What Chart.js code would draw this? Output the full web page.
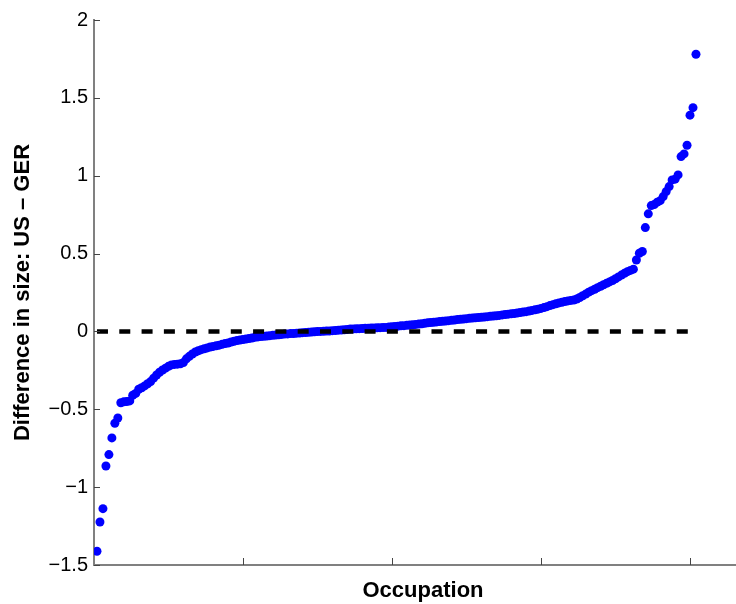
<!DOCTYPE html>
<html><head><meta charset="utf-8">
<script src="https://cdn.jsdelivr.net/npm/chart.js@4/dist/chart.umd.min.js"></script>
<style>html,body{margin:0;padding:0;background:#fff;overflow:hidden;width:736px;height:604px}canvas{display:block}</style>
</head><body>
<canvas id="c" width="752" height="604"></canvas>
<script>
// Sorted difference in occupation size (US - GER), one value per occupation
const sizeDiff = [
 -1.412,-1.224,-1.138,-0.864,-0.791,-0.684,-0.590,-0.556,-0.458,-0.452,
 -0.450,-0.446,-0.410,-0.398,-0.371,-0.362,-0.350,-0.336,-0.322,-0.300,
 -0.280,-0.262,-0.248,-0.236,-0.224,-0.215,-0.212,-0.210,-0.208,-0.200,
 -0.176,-0.160,-0.145,-0.132,-0.124,-0.117,-0.111,-0.106,-0.100,-0.096,
 -0.092,-0.088,-0.083,-0.078,-0.074,-0.068,-0.063,-0.058,-0.055,-0.052,
 -0.049,-0.046,-0.042,-0.038,-0.035,-0.033,-0.031,-0.029,-0.027,-0.025,
 -0.023,-0.021,-0.019,-0.017,-0.016,-0.014,-0.013,-0.011,-0.010,-0.008,
 -0.007,-0.005,-0.004,-0.002,-0.001,0.000,0.001,0.002,0.003,0.005,
 0.006,0.008,0.009,0.011,0.013,0.015,0.016,0.017,0.018,0.019,
 0.020,0.021,0.022,0.022,0.023,0.024,0.025,0.026,0.028,0.030,
 0.032,0.034,0.036,0.037,0.039,0.041,0.043,0.045,0.047,0.049,
 0.052,0.055,0.057,0.059,0.061,0.063,0.065,0.067,0.069,0.071,
 0.073,0.076,0.078,0.080,0.082,0.084,0.086,0.088,0.089,0.091,
 0.093,0.095,0.097,0.099,0.101,0.103,0.106,0.109,0.111,0.113,
 0.115,0.118,0.121,0.124,0.127,0.131,0.135,0.139,0.143,0.148,
 0.153,0.159,0.166,0.172,0.178,0.183,0.187,0.192,0.196,0.199,
 0.202,0.208,0.218,0.229,0.240,0.252,0.262,0.271,0.281,0.290,
 0.300,0.309,0.318,0.327,0.338,0.350,0.362,0.373,0.384,0.392,
 0.400,0.459,0.502,0.513,0.667,0.755,0.808,0.815,0.830,0.840,
 0.866,0.898,0.930,0.973,0.978,1.005,1.123,1.140,1.196,1.389,
 1.437,1.780
];
const referenceLevel = 0;
const yTickValues = [-1.5, -1, -0.5, 0, 0.5, 1, 1.5, 2];
const yTickLabels = ['\u22121.5', '\u22121', '\u22120.5', '0', '0.5', '1', '1.5', '2'];
const xTickValues = [50, 100, 150, 200];
const xLimits = [0, 220.8];
const yLimits = [-1.5, 2];
const xTitle = 'Occupation';
const yTitle = 'Difference in size: US \u2013 GER';

const points = sizeDiff.map((v, i) => ({x: i + 1, y: v}));
const refLine = [{x: 1, y: referenceLevel}, {x: sizeDiff.length, y: referenceLevel}];

const FONT = '"Liberation Sans", Arial, Helvetica, sans-serif';

const inwardTicks = {
  id: 'inwardTicks',
  afterDatasetsDraw(chart) {
    const {ctx, chartArea: a, scales: {x, y}} = chart;
    ctx.save();
    ctx.lineWidth = 1;
    ctx.strokeStyle = '#444';
    y.ticks.forEach(t => {
      const py = Math.round(y.getPixelForValue(t.value)) + 0.5;
      ctx.beginPath(); ctx.moveTo(a.left, py); ctx.lineTo(a.left + 6, py); ctx.stroke();
    });
    x.ticks.forEach(t => {
      const px = Math.round(x.getPixelForValue(t.value)) + 0.5;
      ctx.beginPath(); ctx.moveTo(px, a.bottom); ctx.lineTo(px, a.bottom - 7); ctx.stroke();
    });
    ctx.restore();
  }
};

new Chart(document.getElementById('c'), {
  type: 'scatter',
  data: {
    datasets: [
      {
        type: 'line',
        data: refLine,
        borderColor: '#000',
        borderWidth: 4.5,
        borderDash: [11, 11.3],
        borderCapStyle: 'butt',
        pointRadius: 0,
        fill: false,
        order: 0
      },
      {
        data: points,
        backgroundColor: '#0000ff',
        borderColor: '#0000ff',
        borderWidth: 0,
        pointRadius: 4.5,
        pointHoverRadius: 4.5,
        order: 1
      }
    ]
  },
  options: {
    responsive: false,
    animation: false,
    devicePixelRatio: 1,
    layout: {autoPadding: false, padding: {top: 20, right: 0, bottom: 0, left: 0}},
    plugins: {legend: {display: false}, tooltip: {enabled: false}},
    scales: {
      x: {
        type: 'linear',
        min: xLimits[0], max: xLimits[1],
        afterBuildTicks: s => { s.ticks = xTickValues.map(v => ({value: v})); },
        afterFit: s => { s.height = 39; s.paddingLeft = 0; s.paddingRight = 0; },
        ticks: {display: false},
        grid: {display: true, drawOnChartArea: false, drawTicks: false, color: 'rgba(0,0,0,0)'},
        border: {display: true, color: '#808080', width: 2},
        title: {display: true, text: xTitle, color: '#000', font: {family: FONT, size: 22, weight: 'bold'}, padding: {top: 7, bottom: 0}}
      },
      y: {
        type: 'linear',
        min: yLimits[0], max: yLimits[1],
        afterBuildTicks: s => { s.ticks = yTickValues.map(v => ({value: v})); },
        afterFit: s => { s.width = 94; },
        ticks: {
          color: '#000', padding: 6,
          font: {family: FONT, size: 20},
          callback: (v) => { const k = yTickValues.indexOf(v); return k >= 0 ? yTickLabels[k] : ''; }
        },
        grid: {display: true, drawOnChartArea: false, drawTicks: false, color: 'rgba(0,0,0,0)'},
        border: {display: true, color: '#808080', width: 2},
        title: {display: true, text: yTitle, color: '#000', font: {family: FONT, size: 22, weight: 'bold'}, padding: {top: 10, bottom: 0}}
      }
    }
  },
  plugins: [inwardTicks]
});
</script>
</body></html>
